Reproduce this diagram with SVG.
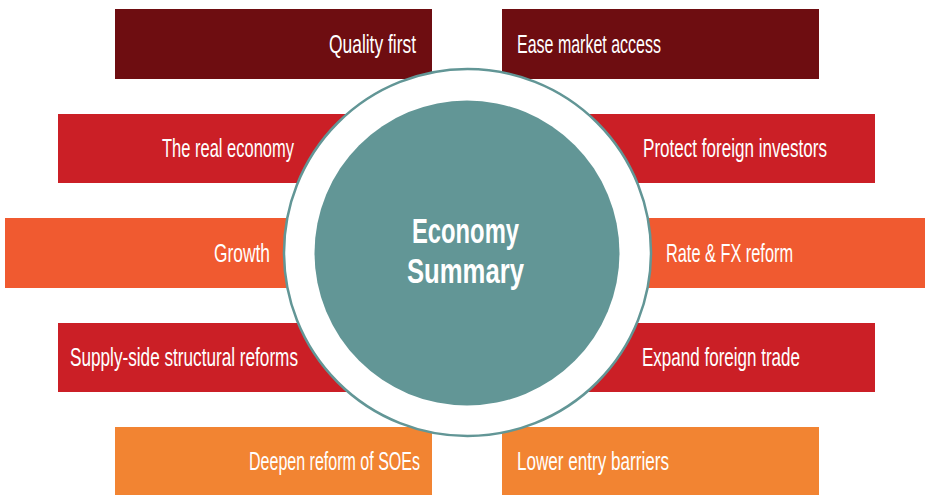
<svg xmlns="http://www.w3.org/2000/svg" width="925" height="495" viewBox="0 0 925 495">
  <style>
    .lbl { font-family: "Liberation Sans", Arial, sans-serif; font-size: 26px; fill: #ffffff; }
    .l { text-anchor: end; }
    .r { text-anchor: start; }
    .c1 { fill: #6E0D11; }
    .c2 { fill: #CB1F26; }
    .c3 { fill: #F05A30; }
    .c4 { fill: #F28432; }
    .title { font-family: "Liberation Sans", Arial, sans-serif; font-size: 35px; font-weight: bold; fill: #ffffff; text-anchor: middle; }
  </style>
  <rect width="925" height="495" fill="#ffffff"/>

  <!-- left column bars -->
  <g id="quality-first">
    <rect class="c1" x="115" y="9" width="317" height="70"/>
    <text class="lbl l" x="416" y="53" textLength="87" lengthAdjust="spacingAndGlyphs">Quality first</text>
  </g>
  <g id="real-economy">
    <rect class="c2" x="58" y="114" width="410" height="69"/>
    <text class="lbl l" x="294" y="157" textLength="132" lengthAdjust="spacingAndGlyphs">The real economy</text>
  </g>
  <g id="growth">
    <rect class="c3" x="5" y="218" width="463" height="70"/>
    <text class="lbl l" x="270" y="262" textLength="56" lengthAdjust="spacingAndGlyphs">Growth</text>
  </g>
  <g id="supply-side">
    <rect class="c2" x="58" y="323" width="410" height="69"/>
    <text class="lbl l" x="298" y="366" textLength="228" lengthAdjust="spacingAndGlyphs">Supply-side structural reforms</text>
  </g>
  <g id="soe-reform">
    <rect class="c4" x="115" y="427" width="317" height="68"/>
    <text class="lbl l" x="420" y="470" textLength="171" lengthAdjust="spacingAndGlyphs">Deepen reform of SOEs</text>
  </g>

  <!-- right column bars -->
  <g id="market-access">
    <rect class="c1" x="502" y="9" width="317" height="70"/>
    <text class="lbl r" x="517" y="53" textLength="144" lengthAdjust="spacingAndGlyphs">Ease market access</text>
  </g>
  <g id="foreign-investors">
    <rect class="c2" x="468" y="114" width="407" height="69"/>
    <text class="lbl r" x="643" y="157" textLength="184" lengthAdjust="spacingAndGlyphs">Protect foreign investors</text>
  </g>
  <g id="rate-fx">
    <rect class="c3" x="468" y="218" width="457" height="70"/>
    <text class="lbl r" x="666" y="262" textLength="127" lengthAdjust="spacingAndGlyphs">Rate &amp; FX reform</text>
  </g>
  <g id="foreign-trade">
    <rect class="c2" x="468" y="323" width="407" height="69"/>
    <text class="lbl r" x="642" y="366" textLength="158" lengthAdjust="spacingAndGlyphs">Expand foreign trade</text>
  </g>
  <g id="entry-barriers">
    <rect class="c4" x="502" y="427" width="317" height="68"/>
    <text class="lbl r" x="517" y="470" textLength="152" lengthAdjust="spacingAndGlyphs">Lower entry barriers</text>
  </g>

  <!-- central hub -->
  <g id="hub">
    <circle cx="467.5" cy="252.5" r="183.5" fill="#ffffff" stroke="#629696" stroke-width="2.5"/>
    <circle cx="467" cy="253" r="152.5" fill="#629696"/>
    <text class="title" x="465.5" y="243" textLength="107" lengthAdjust="spacingAndGlyphs">Economy</text>
    <text class="title" x="465.5" y="283" textLength="117" lengthAdjust="spacingAndGlyphs">Summary</text>
  </g>

  <g id="connectors"/>
</svg>
